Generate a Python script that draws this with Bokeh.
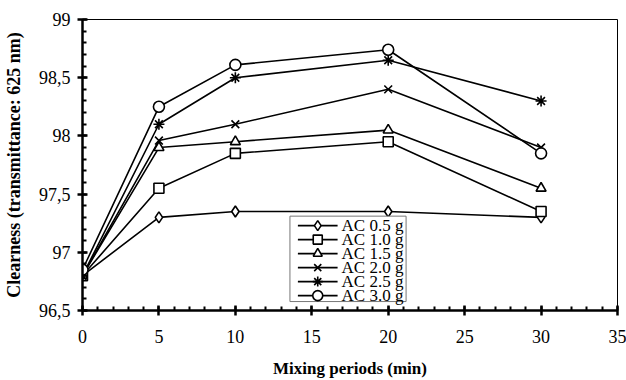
from bokeh.plotting import figure
from bokeh.models import Range1d, FixedTicker, CustomJSTickFormatter
from bokeh.core.properties import value
from bokeh.embed import file_html
from bokeh.resources import INLINE

minutes = [0, 5, 10, 20, 30]
series_names = ["AC 0.5 g", "AC 1.0 g", "AC 1.5 g", "AC 2.0 g", "AC 2.5 g", "AC 3.0 g"]
ac_05 = [96.80, 97.30, 97.35, 97.35, 97.30]
ac_10 = [96.80, 97.55, 97.85, 97.95, 97.35]
ac_15 = [96.80, 97.90, 97.95, 98.05, 97.55]
ac_20 = [96.80, 97.96, 98.10, 98.40, 97.90]
ac_25 = [96.80, 98.10, 98.50, 98.65, 98.30]
ac_30 = [96.85, 98.25, 98.61, 98.74, 97.85]
x_ticks = [0, 5, 10, 15, 20, 25, 30, 35]
y_ticks = [96.5, 97, 97.5, 98, 98.5, 99]

series = [ac_05, ac_10, ac_15, ac_20, ac_25, ac_30]
markers = ["diamond", "square", "triangle", "x", "asterisk", "circle"]
sizes = [11, 10, 10, 11, 11, 11]

FONT = "Liberation Serif"
W, H = 626, 380
BL, BR, BT, BB = 78, 9, 19, 68
X0, X1, Y0, Y1 = 0, 35, 96.5, 99

p = figure(width=W, height=H, output_backend="svg", toolbar_location=None,
           x_range=Range1d(X0, X1), y_range=Range1d(Y0, Y1),
           min_border_left=BL, min_border_right=BR, min_border_top=BT, min_border_bottom=BB)
p.background_fill_color = "white"
p.border_fill_color = "white"
p.outline_line_color = "black"
p.outline_line_width = 1
p.xgrid.visible = False
p.ygrid.visible = False

for ys, m, s in zip(series, markers, sizes):
    p.line(minutes, ys, line_color="black", line_width=1.6)
    p.scatter(minutes, ys, marker=m, size=s, line_color="black", fill_color="white", line_width=1.6)

# legend box drawn in screen-pixel layout, converted to data units
px_x = (W - BL - BR) / (X1 - X0)
px_y = (H - BT - BB) / (Y1 - Y0)
def dx(px):
    return X0 + (px - BL) / px_x
def dy(py):
    return Y1 - (py - BT) / px_y

p.quad(left=[dx(287)], right=[dx(404)], top=[dy(217)], bottom=[dy(303)],
       fill_color="white", line_color="#777777", line_width=1)
for i, (name, m, s) in enumerate(zip(series_names, markers, sizes)):
    yc = dy(226.5 + 14.1 * i)
    p.line([dx(295), dx(335)], [yc, yc], line_color="black", line_width=1.6)
    p.scatter([dx(315)], [yc], marker=m, size=s - 1, line_color="black", fill_color="white", line_width=1.6)
    p.text([dx(339)], [yc], text=[name], text_font=value(FONT), text_font_size="17px",
           text_baseline="middle", text_align="left", text_color="black")

xa = p.xaxis[0]
ya = p.yaxis[0]
xa.ticker = FixedTicker(ticks=x_ticks, minor_ticks=list(range(0, 36)))
ya.ticker = FixedTicker(ticks=y_ticks, minor_ticks=[round(96.5 + 0.1 * i, 2) for i in range(26)])
ya.formatter = CustomJSTickFormatter(code="return String(tick).replace('.', ',');")

for ax in (xa, ya):
    ax.axis_line_width = 2.5
    ax.axis_line_color = "black"
    ax.major_tick_line_width = 2.5
    ax.major_tick_in = 5
    ax.major_tick_out = 5
    ax.minor_tick_line_width = 2
    ax.minor_tick_in = 4
    ax.minor_tick_out = 0
    ax.major_label_text_font = FONT
    ax.major_label_text_font_size = "18px"
    ax.major_label_text_color = "black"
    ax.axis_label_text_font = FONT
    ax.axis_label_text_font_style = "bold"
    ax.axis_label_text_color = "black"

xa.axis_label = "Mixing periods (min)"
ya.axis_label = "Clearness (transmittance: 625 nm)"
xa.axis_label_text_font_size = "17px"
ya.axis_label_text_font_size = "18px"
xa.major_label_standoff = 14
xa.axis_label_standoff = 13
ya.major_label_standoff = 7
ya.axis_label_standoff = 12

open("out.html", "w").write(file_html(p, INLINE))
